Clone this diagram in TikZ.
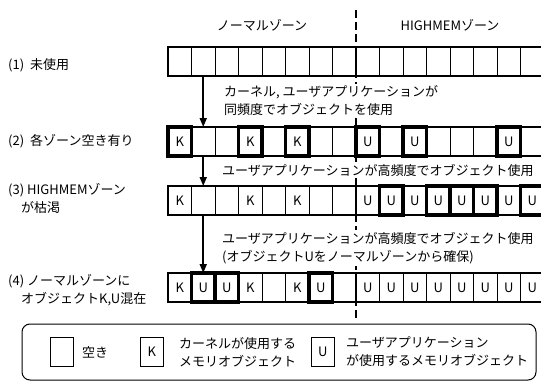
\documentclass[tikz,border=0pt]{standalone}
\usepackage{fontspec}
\setmainfont{Noto Sans CJK JP}
\usetikzlibrary{arrows.meta}
\begin{document}
\begin{tikzpicture}[x=1pt,y=-1pt,
  cell/.style={draw, line width=0.8pt, minimum width=23.5pt, minimum height=29pt,
    inner sep=0pt, outer sep=0pt, anchor=north west, font=\fontsize{13}{14}\selectfont},
  boldbox/.style={draw=black, line width=3.4pt},
  strip/.style={draw, line width=1.3pt},
  lbl/.style={font=\fontsize{13}{18}\selectfont, inner sep=1pt, anchor=west, align=left},
  flowtxt/.style={lbl, fill=white, inner sep=2pt},
  flow/.style={line width=1.8pt, -{Triangle[length=9pt,width=7pt]}},
  zoneline/.style={line width=2.6pt},
]
\path[use as bounding box] (0,0) rectangle (541,383);
\clip (0,0) rectangle (541,383);

% zone divider
\coordinate (ztop) at (356,10);
\coordinate (zbot) at (356,318);
\draw[zoneline, dash pattern=on 8pt off 4pt] (ztop) -- (zbot);

% zone titles
\node[lbl, anchor=center] (nz) at (262,25) {ノーマルゾーン};
\node[lbl, anchor=center] (hz) at (450,25) {HIGHMEMゾーン};

% row 1
\foreach \k in {0,...,15} \node[cell] (c1-\k) at ({168+23.5*\k},47) {};
% row 2
\foreach \k/\t in {0/K,1/{},2/{},3/K,4/{},5/K,6/{},7/{},8/U,9/{},10/U,11/{},12/{},13/{},14/U,15/{}}
  \node[cell] (c2-\k) at ({168+23.5*\k},127) {\t};
% row 3
\foreach \k/\t in {0/K,1/{},2/{},3/K,4/{},5/K,6/{},7/{},8/U,9/U,10/U,11/U,12/U,13/U,14/U,15/U}
  \node[cell] (c3-\k) at ({168+23.5*\k},186) {\t};
% row 4
\foreach \k/\t in {0/K,1/U,2/U,3/K,4/{},5/K,6/U,7/{},8/U,9/U,10/U,11/U,12/U,13/U,14/U,15/U}
  \node[cell] (c4-\k) at ({168+23.5*\k},273) {\t};

% strip outlines and solid divider through rows
\foreach \r in {1,2,3,4}{
  \draw[strip] (c\r-0.north west) rectangle (c\r-15.south east);
  \draw[zoneline] (c\r-8.north west) -- (c\r-8.south west);
}

% highlighted (bold) cells
\foreach \bx in {c2-0,c2-3,c2-5,c2-8,c2-10,c2-14,c3-9,c3-11,c3-12,c3-13,c3-15,c4-1,c4-2,c4-6}
  {\draw[boldbox] (\bx.north west) rectangle (\bx.south east);}

% row labels
\node[lbl] (l1) at (7,65) {(1)\hspace{6pt}未使用};
\node[lbl] (l2) at (7,141) {(2)\hspace{6pt}各ゾーン空き有り};
\node[lbl] (l3a) at (7,190) {(3) HIGHMEMゾーン};
\node[lbl] (l3b) at (20,208) {が枯渇};
\node[lbl] (l4a) at (7,281) {(4) ノーマルゾーンに};
\node[lbl] (l4b) at (20,299) {オブジェクトK,U混在};

% transitions
\draw[flow] (c1-1.south) -- (c2-1.north);
\draw[flow] (c2-1.south) -- (c3-1.north);
\draw[flow] (c3-1.south) -- (c4-1.north);
\node[flowtxt] (t1) at (222,101) {カーネル, ユーザアプリケーションが\\同頻度でオブジェクトを使用};
\node[flowtxt] (t2) at (220,170) {ユーザアプリケーションが高頻度でオブジェクト使用};
\node[flowtxt] (t3) at (220,248) {ユーザアプリケーションが高頻度でオブジェクト使用\\(オブジェクトUをノーマルゾーンから確保)};

% legend
\node[draw, line width=1pt, rounded corners=8pt, minimum width=514pt, minimum height=56pt,
  outer sep=0pt, anchor=north west] (legend) at (22,324) {};
\node[cell] (le) at (50,337) {};
\node[lbl] (let) at (81,352) {空き};
\node[cell] (lk) at (140,337) {K};
\node[lbl] (lkt) at (178,352) {カーネルが使用する\\メモリオブジェクト};
\node[cell] (lu) at (311,337) {U};
\node[lbl] (lut) at (345,352) {ユーザアプリケーション\\が使用するメモリオブジェクト};
\end{tikzpicture}
\end{document}
